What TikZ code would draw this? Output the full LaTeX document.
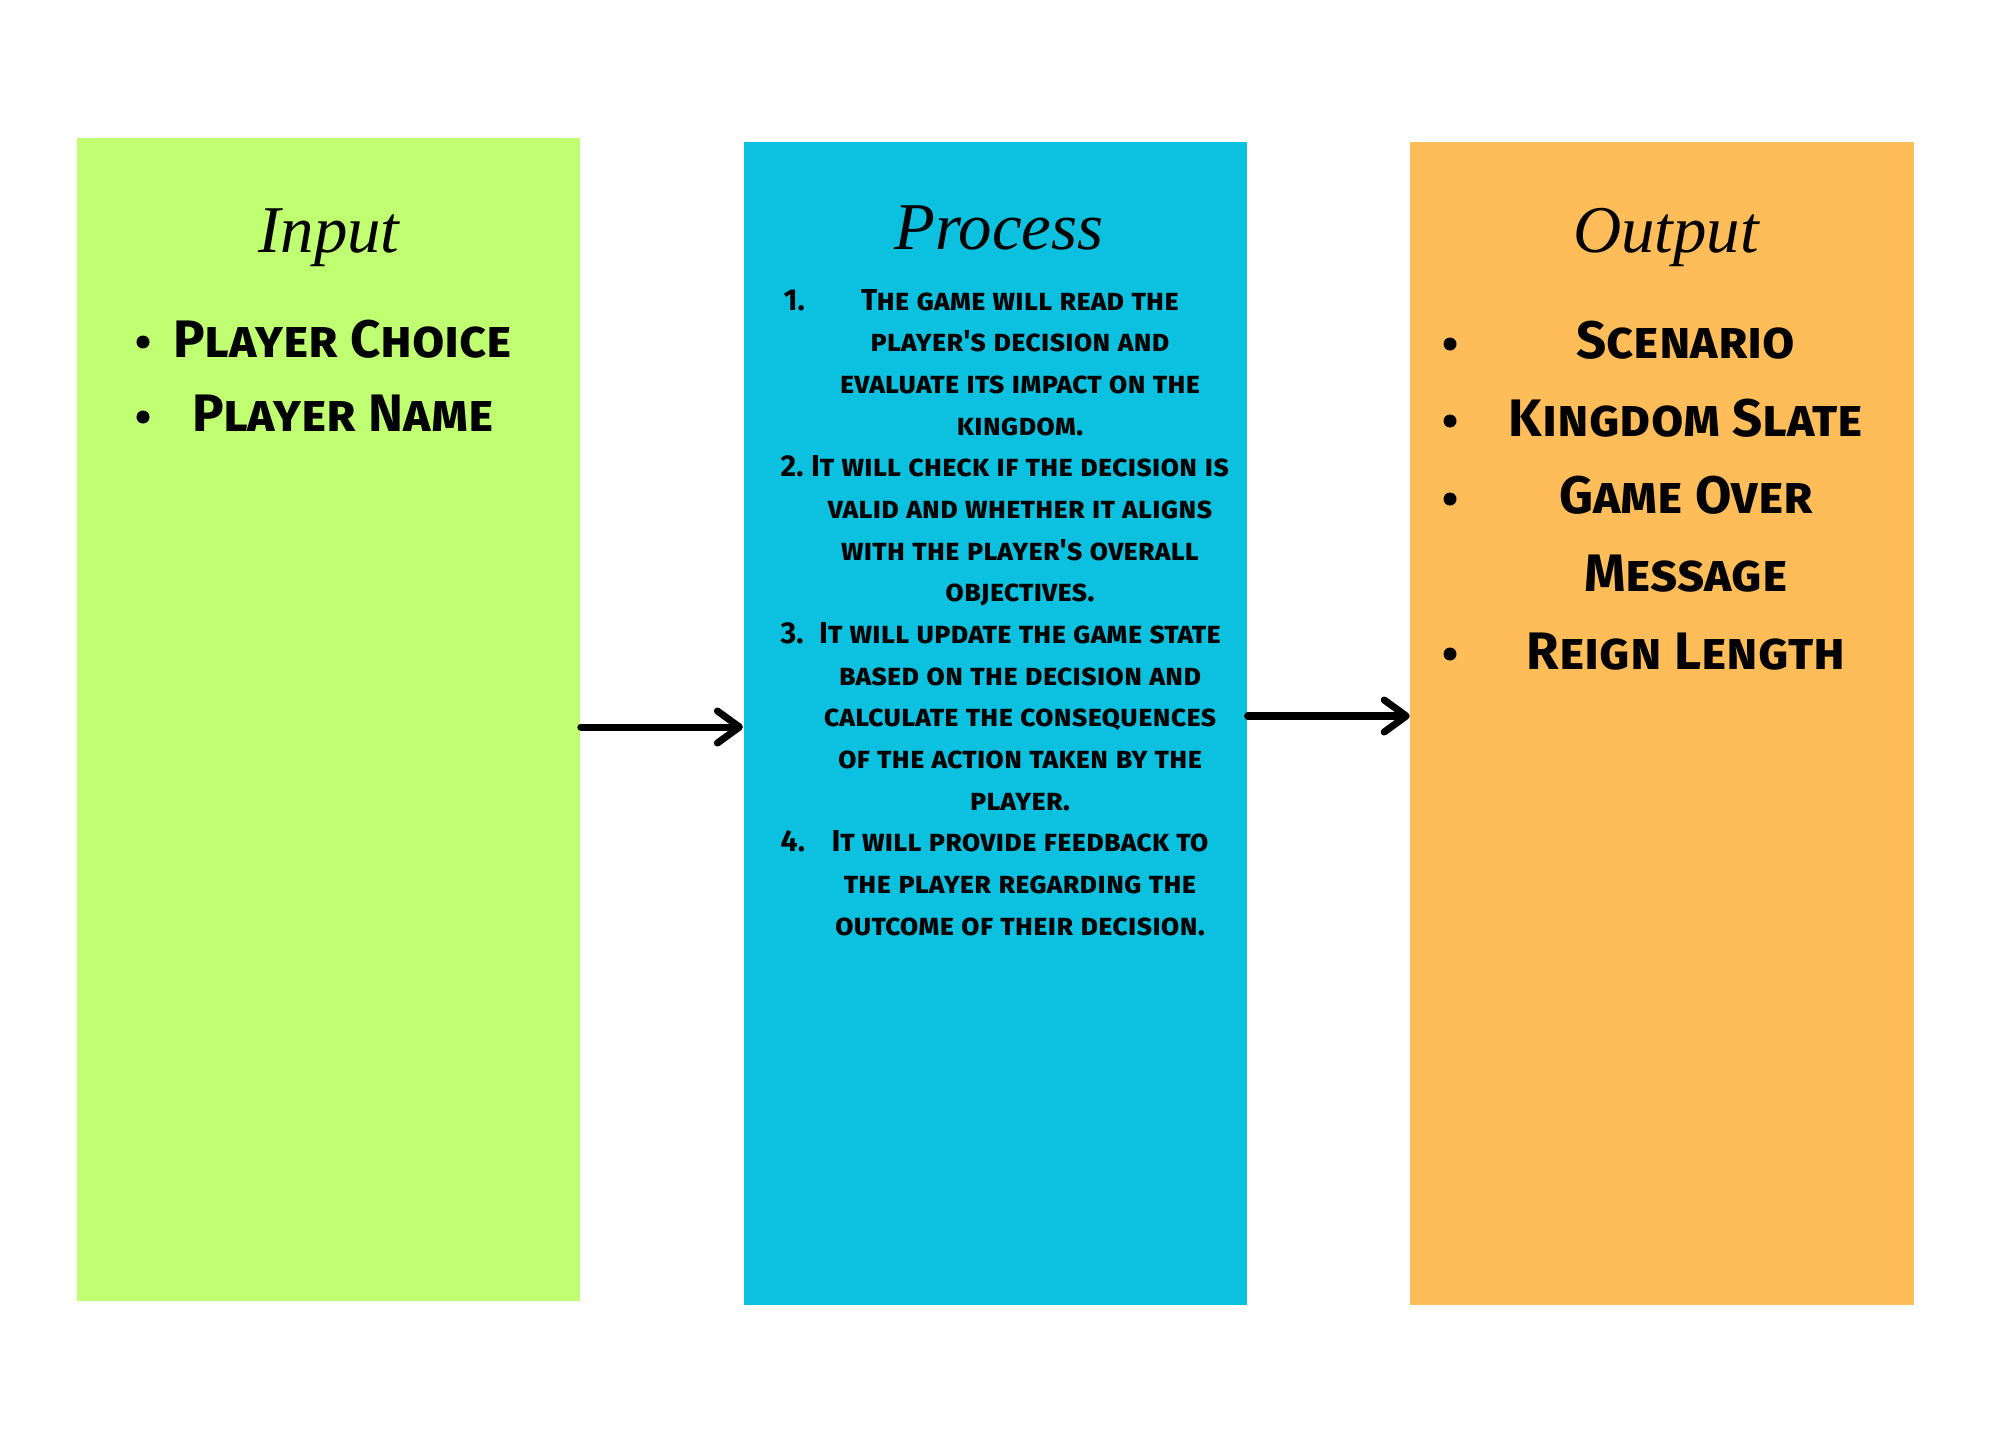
\documentclass[tikz,border=0pt]{standalone}
\usepackage{fontspec}
\setmainfont{Liberation Serif}
\newfontfamily\capsfont[Letters=SmallCaps]{Fira Sans}
\newfontfamily\titlefont{Liberation Serif}
\usetikzlibrary{arrows.meta, positioning}
\definecolor{inputbg}{HTML}{C1FF72}
\definecolor{processbg}{HTML}{0CC0DF}
\definecolor{outputbg}{HTML}{FFBD59}
\tikzset{
  column/.style={rectangle, inner sep=0pt,
    minimum width=5.03cm, minimum height=11.63cm},
  coltitle/.style={anchor=base, inner sep=0pt,
    font=\titlefont\itshape\fontsize{19}{22}\selectfont},
  listitem/.style={anchor=mid, inner sep=0pt,
    font=\capsfont\bfseries\fontsize{15}{18}\selectfont},
  procline/.style={anchor=mid, inner sep=0pt,
    font=\capsfont\bfseries\fontsize{8.6}{10}\selectfont},
  procnum/.style={procline, anchor=mid west},
  dot/.style={circle, fill=black, inner sep=0pt, minimum size=0.13cm},
  arrow/.style={-{Straight Barb[length=2.2mm, width=3.2mm, round]},
    line width=2pt, line cap=round},
}
\begin{document}
\begin{tikzpicture}[x=0.01cm, y=-0.01cm]
  \useasboundingbox (0,0) rectangle (2000,1454);
  \fill[white] (0,0) rectangle (2000,1454);

  % the three columns
  \node[column, fill=inputbg] (input) at (328.5,719.5) {};
  \node[column, fill=processbg, right=1.62cm of input, yshift=-0.04cm] (process) {};
  \node[column, fill=outputbg, right=1.62cm of process] (output) {};

  \node[coltitle] (intitle) at (329,252) {Input};
  \node[coltitle] (proctitle) at (999,249) {Process};
  \node[coltitle] (outtitle) at (1666,252) {Output};

  % input
  \node[dot] (inb1) at (143,342) {};
  \node[listitem] (in1) at (343,349) {Player Choice};
  \node[dot] (inb2) at (143,417) {};
  \node[listitem] (in2) at (343,423) {Player Name};

  % process
  \foreach \txt [count=\i] in {The game will read the, player's decision and,
      evaluate its impact on the, kingdom., It will check if the decision is,
      valid and whether it aligns, with the player's overall, objectives.,
      It will update the game state, based on the decision and,
      calculate the consequences, of the action taken by the, player.,
      It will provide feedback to, the player regarding the,
      outcome of their decision.}
    \node[procline] (p\i) at (1020,{302+(\i-1)*41.67}) {\txt};
  \node[procnum] (n1) at (783,302) {1.};
  \node[procnum] (n2) at (780,468.7) {2.};
  \node[procnum] (n3) at (780,635.4) {3.};
  \node[procnum] (n4) at (780,843.7) {4.};

  % output
  \node[dot] (outb1) at (1450,344) {};
  \node[listitem] (out1) at (1686,350) {Scenario};
  \node[dot] (outb2) at (1450,421) {};
  \node[listitem] (out2) at (1686,428) {Kingdom Slate};
  \node[dot] (outb3) at (1450,499) {};
  \node[listitem] (out3) at (1686,505) {Game Over};
  \node[listitem] (out4) at (1686,583) {Message};
  \node[dot] (outb4) at (1450,654) {};
  \node[listitem] (out5) at (1686,661) {Reign Length};

  \draw[arrow] ([yshift=-0.075cm]input.east) -- ([yshift=-0.075cm]input.east -| process.west);
  \draw[arrow] ([yshift=0.075cm]process.east) -- ([yshift=0.075cm]process.east -| output.west);
\end{tikzpicture}
\end{document}
